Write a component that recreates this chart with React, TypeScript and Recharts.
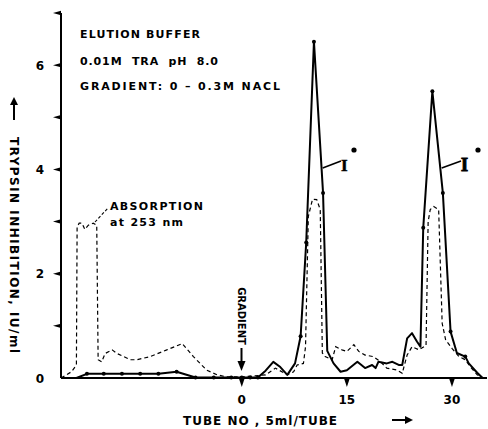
import { LineChart, Line, XAxis, YAxis } from 'recharts';

// trypsin inhibition (solid), IU/ml
const inhibitionTube = [
  -23.6, -22.1, -19.7, -17.1, -14.5, -11.9, -9.3, -6.6, -4.0, -1.5, 0, 1.2, 2.3, 3.4, 4.5, 5.5, 6.5, 7.6,
  8.4, 9.2, 10.3, 11.6, 12.2, 13.1, 14.1, 15.0, 16.5, 17.6, 18.6, 19.1, 19.5, 20.7, 21.5, 22.4, 22.9,
  23.6, 24.3, 25.0, 25.5, 25.9, 27.2, 28.7, 29.8, 30.7, 31.9, 32.4, 33.6, 34.3,
];
const inhibitionValue = [
  0, 0.08, 0.08, 0.08, 0.08, 0.08, 0.12, 0.01, 0.01, 0.01, 0.01, 0.01, 0.01, 0.14, 0.31, 0.21, 0.06, 0.28,
  0.8, 2.6, 6.45, 3.55, 0.52, 0.28, 0.12, 0.15, 0.31, 0.19, 0.25, 0.19, 0.31, 0.28, 0.31, 0.25, 0.25,
  0.76, 0.86, 0.7, 0.6, 2.88, 5.5, 3.55, 0.89, 0.48, 0.41, 0.28, 0.1, 0.01,
];
// tubes drawn with a dot
const inhibitionMarked = [
  -22.1, -19.7, -17.1, -14.5, -11.9, -9.3, -6.6, -4.0, -1.5, 0, 1.2, 2.3, 8.4, 9.2, 10.3, 11.6, 25.9, 27.2,
  28.7, 29.8, 31.9,
];

// absorption at 253 nm (dashed)
const absorptionTube = [
  -25.8, -24.3, -23.6, -23.5, -23.2, -22.8, -22.4, -21.9, -21.2, -20.7, -20.5, -20.0, -19.5, -18.5, -17.8,
  -15.9, -15.0, -13.1, -10.7, -8.5, -6.9, -5.0, -3.5, -2.1, 0, 3.4, 4.8, 6.5, 7.4, 7.9, 8.8, 9.1, 9.5, 10.1,
  10.7, 11.2, 11.5, 11.9, 12.9, 13.4, 14.3, 15.0, 16.0, 16.7, 17.6, 18.8, 19.8, 20.7, 22.2, 22.9, 23.6,
  24.3, 25.3, 26.0, 26.3, 26.6, 26.9, 27.4, 28.1, 28.6, 29.1, 30.0, 31.0, 31.9, 32.6, 33.6, 34.5,
];
const absorptionValue = [
  0, 0.12, 0.25, 2.9, 2.97, 2.97, 2.85, 2.93, 2.97, 2.93, 0.35, 0.31, 0.47, 0.54, 0.47,
  0.35, 0.35, 0.41, 0.54, 0.66, 0.41, 0.15, 0.06, 0.02, 0.02, 0.06, 0.19, 0.06, 0.12, 0.25, 0.28, 0.6, 3.1, 3.43,
  3.42, 3.23, 0.48, 0.41, 0.35, 0.6, 0.54, 0.51, 0.64, 0.51, 0.44, 0.41, 0.31, 0.19, 0.15, 0.09, 0.44,
  0.6, 0.54, 0.6, 0.62, 3.0, 3.23, 3.29, 3.23, 1.05, 0.73, 0.57, 0.41, 0.35, 0.22, 0.06, 0,
];

const yTicks = [0, 1, 2, 3, 4, 5, 6, 7];
const yLabelled = [0, 2, 4, 6];
const xTicks = [0, 15, 30];

const inhibitionData = inhibitionTube.map((x, i) => ({
  x,
  y: inhibitionValue[i],
  mark: inhibitionMarked.includes(x),
}));
const absorptionData = absorptionTube.map((x, i) => ({ x, y: absorptionValue[i] }));

const FONT = '"DejaVu Sans", Verdana, sans-serif';
const pre = { whiteSpace: 'pre' as const };

const YTick = (props: any) => {
  const { y, payload } = props;
  const v = payload.value;
  return (
    <g>
      {v > 0 && <polygon points={`61,${y - 2.2} 53,${y} 61,${y + 2.2}`} fill="#000" />}
      {yLabelled.includes(v) && (
        <text x={40} y={y + 4.5} textAnchor="middle" fontFamily={FONT} fontWeight={700} fontSize={12} fill="#000">
          {v}
        </text>
      )}
    </g>
  );
};

const XTick = (props: any) => {
  const { x, payload } = props;
  return (
    <g>
      <polygon points={`${x - 3},378 ${x + 3},378 ${x},387`} fill="#000" />
      <text x={x} y={404} textAnchor="middle" fontFamily={FONT} fontWeight={700} fontSize={12} fill="#000">
        {payload.value}
      </text>
    </g>
  );
};

const renderDot = (props: any) => {
  const { cx, cy, payload, index } = props;
  if (!payload.mark) return <g key={`d-${index}`} />;
  return <circle key={`d-${index}`} cx={cx} cy={cy} r={2} fill="#000" />;
};

const Notes = () => (
  <svg width={488} height={429} style={{ position: 'absolute', left: 0, top: 0, pointerEvents: 'none' }}>
    <g fontFamily={FONT} fontWeight={700} fill="#000">
      <text x={80} y={38} fontSize={11} textLength={120} lengthAdjust="spacing" style={pre}>ELUTION BUFFER</text>
      <text x={80} y={65} fontSize={11} textLength={138} lengthAdjust="spacing" style={pre}>0.01M  TRA  pH  8.0</text>
      <text x={80} y={90} fontSize={11} textLength={200} lengthAdjust="spacing" style={pre}>GRADIENT: 0 – 0.3M NACL</text>
      <text x={110} y={210} fontSize={11} textLength={93} lengthAdjust="spacing">ABSORPTION</text>
      <text x={110} y={226} fontSize={11} textLength={73} lengthAdjust="spacing" style={pre}>at 253 nm</text>
      <text x={183} y={425} fontSize={12} textLength={154} lengthAdjust="spacing" style={pre}>TUBE NO , 5ml/TUBE</text>
      <text
        transform="translate(10,245) rotate(90)"
        textAnchor="middle"
        fontSize={12}
        textLength={216}
        lengthAdjust="spacing"
        style={pre}
      >
        TRYPSIN INHIBITION, IU/ml
      </text>
      <text transform="translate(237.5,316) rotate(90)" textAnchor="middle" fontSize={10}>
        GRADIENT
      </text>
      <text x={341} y={171} fontFamily='"Liberation Serif", serif' fontSize={17} stroke="#000" strokeWidth={0.5}>I</text>
      <text x={461} y={171} fontFamily='"Liberation Serif", serif' fontSize={18} stroke="#000" strokeWidth={1}>I</text>
    </g>
    <g stroke="#000" strokeWidth={1.6} fill="none">
      <line x1={322.7} y1={168} x2={341} y2={161} />
      <line x1={441.7} y1={168} x2={461} y2={161} />
      <line x1={95} y1={222} x2={108} y2={208} strokeWidth={1.1} strokeDasharray="3 2" />
      <line x1={14} y1={120} x2={14} y2={104} strokeWidth={2} />
      <line x1={241.5} y1={348} x2={241.5} y2={362} strokeWidth={2} />
      <line x1={392} y1={420} x2={406} y2={420} strokeWidth={2} />
    </g>
    <g fill="#000">
      <circle cx={354} cy={150} r={2.6} />
      <circle cx={478} cy={150} r={2.6} />
      <polygon points="10,105 18,105 14,97" />
      <polygon points="237.5,361 245.5,361 241.5,371" />
      <polygon points="405,416 405,424 413,420" />
    </g>
  </svg>
);

export default function App() {
  return (
    <div style={{ position: 'absolute', left: 0, top: 0, width: 488, height: 429, background: '#fff' }}>
      <LineChart width={488} height={429} margin={{ top: 13, right: 1, bottom: 0, left: 0 }}>
        <XAxis
          dataKey="x"
          type="number"
          domain={[-25.8, 35]}
          ticks={xTicks}
          allowDataOverflow
          height={51}
          axisLine={{ stroke: '#000', strokeWidth: 2 }}
          tickLine={false}
          tick={<XTick />}
        />
        <YAxis
          type="number"
          domain={[0, 7]}
          ticks={yTicks}
          width={61}
          axisLine={{ stroke: '#000', strokeWidth: 2 }}
          tickLine={false}
          tick={<YTick />}
          interval={0}
        />
        <Line
          data={absorptionData}
          dataKey="y"
          type="linear"
          stroke="#000"
          strokeWidth={1.2}
          strokeDasharray="4 3"
          dot={false}
          isAnimationActive={false}
        />
        <Line
          data={inhibitionData}
          dataKey="y"
          type="linear"
          stroke="#000"
          strokeWidth={2}
          strokeLinejoin="round"
          dot={renderDot}
          activeDot={false}
          isAnimationActive={false}
        />
      </LineChart>
      <Notes />
    </div>
  );
}
